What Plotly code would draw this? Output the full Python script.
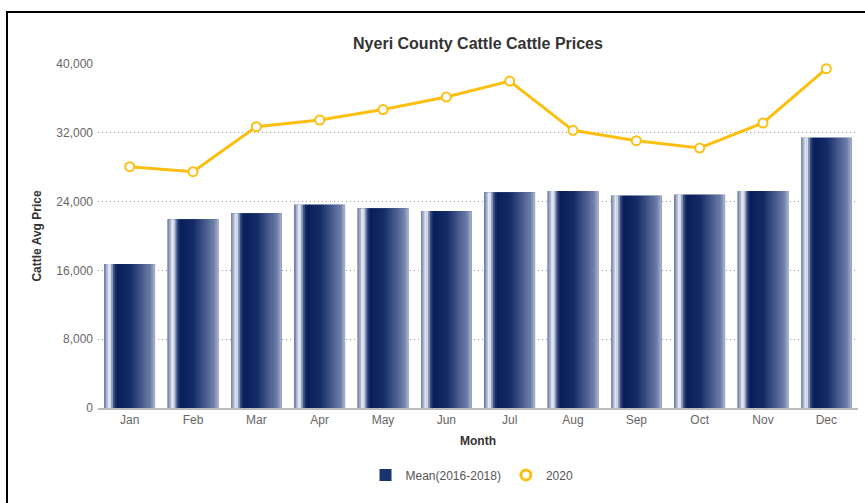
import plotly.graph_objects as go

months = ["Jan", "Feb", "Mar", "Apr", "May", "Jun", "Jul", "Aug", "Sep", "Oct", "Nov", "Dec"]
mean_2016_2018 = [16740, 21940, 22640, 23640, 23220, 22900, 25080, 25230, 24690, 24800, 25230, 31430]
prices_2020 = [28060, 27480, 32710, 33490, 34700, 36160, 38020, 32290, 31080, 30230, 33140, 39450]
y_ticks = [0, 8000, 16000, 24000, 32000, 40000]

# horizontal colour profile of the cylinder-like bars (fraction, colour)
stops = [
    (0.00, (124, 139, 176)), (0.04, (124, 139, 176)),
    (0.07, (225, 230, 240)), (0.12, (225, 230, 240)),
    (0.16, (138, 152, 184)), (0.20, (50, 70, 124)),
    (0.25, (8, 30, 90)), (0.52, (20, 44, 104)),
    (0.92, (112, 128, 170)), (0.97, (150, 163, 193)), (1.00, (170, 181, 205)),
]

def colour_at(f):
    for (f0, c0), (f1, c1) in zip(stops, stops[1:]):
        if f0 <= f <= f1:
            t = 0 if f1 == f0 else (f - f0) / (f1 - f0)
            return "rgb(%d,%d,%d)" % tuple(round(a + (b - a) * t) for a, b in zip(c0, c1))
    return "rgb(%d,%d,%d)" % stops[-1][1]

BW = 0.8
N = 28
fig = go.Figure()
fig.add_trace(go.Bar(x=months, y=mean_2016_2018, name="Mean(2016-2018)", width=BW,
                     marker=dict(color="#1a3470", line=dict(width=0)), showlegend=True))
sw = BW / N
for i in range(N):
    f = (i + 0.5) / N
    fig.add_trace(go.Bar(x=months, y=mean_2016_2018, width=sw * 1.25,
                         offset=-BW / 2 + i * sw - sw * 0.125 if i > 0 else -BW / 2,
                         marker=dict(color=colour_at(f), line=dict(width=0)),
                         showlegend=False, hoverinfo="skip"))

LINE_C = "#fcbf10"
fig.add_trace(go.Scatter(x=months, y=prices_2020, name="2020", mode="lines+markers",
                         line=dict(color=LINE_C, width=3),
                         marker=dict(size=9, color="white", line=dict(color=LINE_C, width=2)),
                         cliponaxis=False, showlegend=False))
# legend entry shows only the marker, as in the reference
fig.add_trace(go.Scatter(x=[None], y=[None], name="2020", mode="markers",
                         marker=dict(size=10, color="white", line=dict(color=LINE_C, width=3))))

L, R, T, B = 98, 7, 64, 95
pw, ph = 865 - L - R, 503 - T - B
def px_x(p): return (p - L) / pw
def px_y(p): return (503 - B - p) / ph

fig.update_layout(
    width=865, height=503,
    margin=dict(l=L, r=R, t=T, b=B, autoexpand=False),
    barmode="overlay", bargap=0.2,
    plot_bgcolor="white", paper_bgcolor="white",
    font=dict(family="Liberation Sans, Arial, sans-serif", color="#666", size=12),
    title=dict(text="<b>Nyeri County Cattle Cattle Prices</b>", x=px_x(478), xref="paper", xanchor="center",
               y=1 - 43 / 503, yref="container", yanchor="middle", font=dict(size=16, color="#333")),
    xaxis=dict(range=[-0.5, 11.5], showgrid=False, showline=True, linecolor="#bbb", linewidth=2,
               automargin=False, ticks="", tickfont=dict(size=12, color="#666"),
               title=dict(text="<b>Month</b>", font=dict(size=12, color="#333"), standoff=10)),
    yaxis=dict(range=[0, 40000], tickvals=y_ticks, tickformat=",", automargin=False,
               showgrid=True, gridcolor="#999", griddash="1px,3px", gridwidth=1,
               zeroline=False, showline=False, ticks="", ticklabelstandoff=4,
               tickfont=dict(size=12, color="#666"),
               title=dict(text="<b>Cattle Avg Price</b>", font=dict(size=12, color="#333"), standoff=12)),
    legend=dict(orientation="h", x=px_x(472), xanchor="center", y=px_y(475), yanchor="middle",
                font=dict(size=12, color="#555"), traceorder="normal", itemwidth=30),
    shapes=[dict(type="rect", xref="paper", yref="paper",
                 x0=px_x(7), x1=px_x(880), y0=px_y(520), y1=px_y(12),
                 line=dict(color="black", width=2), layer="below")],
)

fig.write_html("out.html", config={"displayModeBar": False},
               post_script="document.body.style.margin='0';")
